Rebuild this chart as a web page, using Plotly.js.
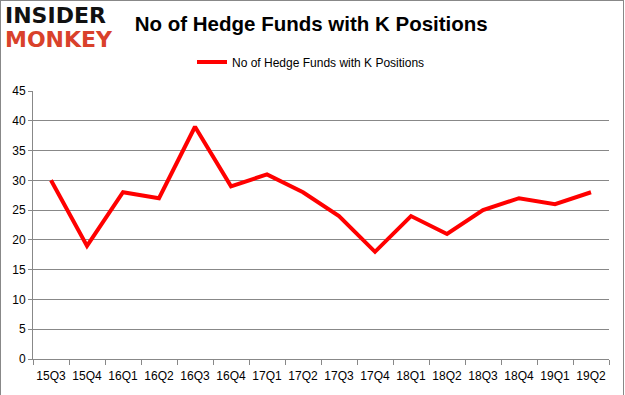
<!DOCTYPE html>
<html>
<head>
<meta charset="utf-8">
<script src="https://cdn.plot.ly/plotly-3.0.1.min.js"></script>
<style>
body{margin:0;padding:0;background:#fff;}
#wrap{position:relative;width:625px;height:395px;overflow:hidden;}
#chart{width:625px;height:395px;}
#border{position:absolute;left:0;top:0;width:622px;height:400px;border:1px solid #888;pointer-events:none;}
</style>
</head>
<body>
<div id="wrap"><div id="chart"></div><div id="border"></div></div>
<script>
var quarters = ["15Q3","15Q4","16Q1","16Q2","16Q3","16Q4","17Q1","17Q2","17Q3","17Q4","18Q1","18Q2","18Q3","18Q4","19Q1","19Q2"];
var hedgeFunds = [30,19,28,27,39,29,31,28,24,18,24,21,25,27,26,28];
var yTicks = [0,5,10,15,20,25,30,35,40,45];

var trace = {
  x: quarters, y: hedgeFunds, type: 'scatter', mode: 'lines',
  name: 'No of Hedge Funds with K Positions',
  line: {color: '#ff0000', width: 4}
};
var layout = {
  width: 625, height: 395,
  margin: {l: 33, r: 16, t: 91, b: 36},
  paper_bgcolor: '#fff', plot_bgcolor: '#fff',
  font: {family: 'Liberation Sans, Arial, sans-serif', size: 12, color: '#000'},
  title: {text: '<b>No of Hedge Funds with K Positions</b>', x: 0.498, xanchor: 'center', y: 1 - 24/395, yanchor: 'middle',
          font: {family: 'Liberation Sans, Arial, sans-serif', size: 20.5, color: '#000'}},
  showlegend: true,
  legend: {orientation: 'h', x: (311-33)/576, xanchor: 'center', y: 1 + (91-62)/268, yanchor: 'middle',
           font: {family: 'Liberation Sans, Arial, sans-serif', size: 12, color: '#000'}, itemwidth: 30},
  xaxis: {type: 'category', tickvals: quarters, ticktext: quarters, showgrid: false, ticks: 'outside', tickson: 'boundaries',
          ticklen: 5, tickcolor: '#888', showline: true, linecolor: '#888', linewidth: 1, fixedrange: true, tickangle: 0,
          ticklabelstandoff: 6, range: [-0.5, quarters.length - 0.5]},
  yaxis: {range: [0, 45], tickvals: yTicks, showgrid: true, gridcolor: '#888', gridwidth: 1, ticks: 'outside',
          ticklen: 4, tickcolor: '#888', showline: true, linecolor: '#888', zeroline: false, fixedrange: true},
  annotations: [
    {text: '<b>INSIDER</b>', xref: 'paper', yref: 'paper', x: -33/576, y: 1 + (91-16)/268, xanchor: 'left', yanchor: 'middle',
     showarrow: false, font: {family: 'DejaVu Sans, sans-serif', size: 22, color: '#111'}, xshift: 3},
    {text: '<b>MONKEY</b>', xref: 'paper', yref: 'paper', x: -33/576, y: 1 + (91-39)/268, xanchor: 'left', yanchor: 'middle',
     showarrow: false, font: {family: 'DejaVu Sans, sans-serif', size: 22, color: '#d9412b'}, xshift: 3}
  ]
};
Plotly.newPlot('chart', [trace], layout, {displayModeBar: false, staticPlot: true});
</script>
</body>
</html>
